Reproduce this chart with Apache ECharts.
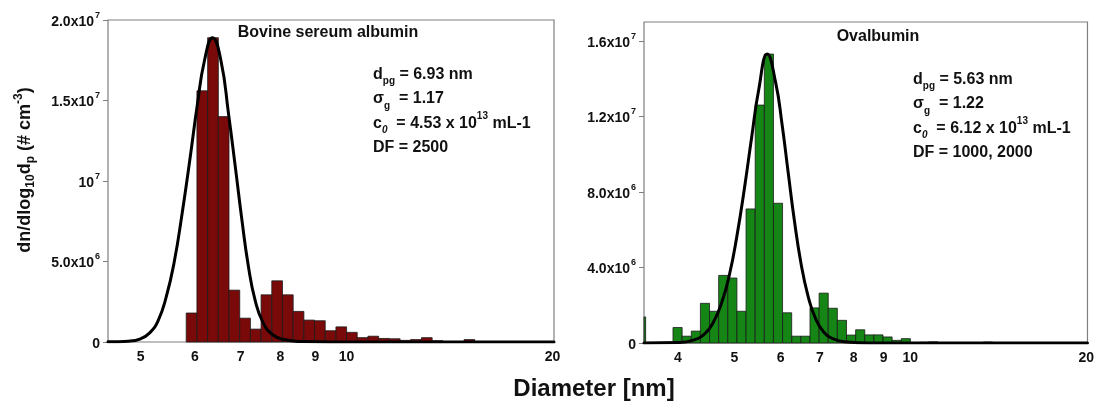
<!DOCTYPE html>
<html><head><meta charset="utf-8">
<script src="https://cdn.jsdelivr.net/npm/echarts@6/dist/echarts.min.js"></script>
<style>html,body{margin:0;padding:0;background:#fff}#c{width:1097px;height:402px}</style>
</head><body><div id="c"></div>
<script>
// ---- data (diameters in nm, concentrations in # cm^-3) ----
const BINS_PER_DECADE = 64;

const bsaDiameters = [5.935, 6.153, 6.379, 6.612, 6.855, 7.106, 7.366, 7.636, 7.916, 8.206, 8.507, 8.818, 9.141, 9.476, 9.823, 10.18, 10.55, 10.94, 11.34, 11.76, 12.19, 12.63, 13.10, 13.58, 14.07, 14.59, 15.12];
const bsaValues = [1.8e6, 15.6e6, 18.9e6, 14.0e6, 3.22e6, 1.48e6, 0.8e6, 2.93e6, 3.8e6, 2.93e6, 1.9e6, 1.36e6, 1.32e6, 0.7e6, 0.94e6, 0.6e6, 0.27e6, 0.36e6, 0.22e6, 0.2e6, 0.1e6, 0.15e6, 0.27e6, 0.08e6, 0.03e6, 0.03e6, 0.15e6];

const ovaDiameters = [3.460, 3.995, 4.142, 4.294, 4.451, 4.614, 4.783, 4.958, 5.140, 5.328, 5.524, 5.726, 5.935, 6.153, 6.379, 6.612, 6.855, 7.106, 7.366, 7.636, 7.916, 8.206, 8.507, 8.818, 9.141, 9.476, 9.823, 10.55, 10.94, 13.58, 14.07];
const ovaValues = [1.38e6, 0.82e6, 0.36e6, 0.63e6, 2.1e6, 1.68e6, 3.58e6, 3.44e6, 1.68e6, 7.1e6, 12.6e6, 15.3e6, 7.4e6, 1.6e6, 0.36e6, 0.36e6, 1.86e6, 2.64e6, 1.84e6, 1.2e6, 0.42e6, 0.7e6, 0.43e6, 0.43e6, 0.32e6, 0.14e6, 0.23e6, 0.04e6, 0.06e6, 0.05e6, 0.02e6];

const bsaFitDiameters = [4.48, 4.8, 5.0, 5.15, 5.3, 5.45, 5.6, 5.75, 5.9, 6.05, 6.2, 6.37, 6.55, 6.72, 6.88, 7.03, 7.18, 7.35, 7.55, 7.8, 8.1, 8.6, 9.5, 20.1];
const bsaFitValues = [0.01e6, 0.05e6, 0.2e6, 0.55e6, 1.3e6, 2.8e6, 5e6, 8e6, 11.3e6, 14.7e6, 17.5e6, 18.9e6, 17.5e6, 14.2e6, 10.8e6, 7.6e6, 4.8e6, 2.6e6, 1.2e6, 0.45e6, 0.15e6, 0.03e6, 0, 0];

const ovaFitDiameters = [3.5, 4.0, 4.25, 4.45, 4.6, 4.75, 4.9, 5.05, 5.2, 5.35, 5.5, 5.69, 5.88, 6.03, 6.18, 6.33, 6.5, 6.68, 6.88, 7.1, 7.4, 7.8, 8.5, 20.1];
const ovaFitValues = [0, 0.02e6, 0.15e6, 0.5e6, 1.1e6, 2.1e6, 3.6e6, 5.7e6, 8.2e6, 10.9e6, 13.4e6, 15.3e6, 13.8e6, 11.6e6, 9e6, 6.5e6, 4.2e6, 2.5e6, 1.3e6, 0.6e6, 0.2e6, 0.05e6, 0, 0];

const bsaXTicks = [5, 6, 7, 8, 9, 10, 20];
const ovaXTicks = [4, 5, 6, 7, 8, 9, 10, 20];
const bsaYTicks = [0, 5e6, 1e7, 1.5e7, 2e7];
const ovaYTicks = [0, 4e6, 8e6, 1.2e7, 1.6e7];
const bsaXRange = [4.48, 20.1];
const ovaXRange = [3.5, 20.1];
const bsaYMax = 2e7;
const ovaYMax = 1.7e7;

const bsaTitle = 'Bovine sereum albumin';
const ovaTitle = 'Ovalbumin';
const bsaStats = ['6.93', '1.17', '4.53', '13', '2500'];
const ovaStats = ['5.63', '1.22', '6.12', '13', '1000, 2000'];
const xTitle = 'Diameter [nm]';

// ---- helpers ----
const FONT = '"Liberation Sans", Arial, sans-serif';
const lg = Math.log10;

function yLabel(v) {
  if (v === 0) return '{b|0}';
  const e = Math.floor(lg(v) + 1e-9);
  const m = v / Math.pow(10, e);
  if (Math.abs(m - 1) < 1e-9) return '{b|10}{s|' + e + '}';
  return '{b|' + m.toFixed(1) + 'x10}{s|' + e + '}';
}
const yRich = {
  b: {fontFamily: FONT, fontWeight: 'bold', fontSize: 14, color: '#111', lineHeight: 18, verticalAlign: 'bottom'},
  s: {fontFamily: FONT, fontWeight: 'bold', fontSize: 9, color: '#111', lineHeight: 18, verticalAlign: 'top', padding: [0, 0, 0, 1]}
};

function barSeries(diams, vals, color, idx) {
  return {
    type: 'custom', xAxisIndex: idx, yAxisIndex: idx, z: 2,
    data: diams.map((d, i) => [lg(d), vals[i]]),
    encode: {x: 0, y: 1},
    renderItem: function (params, api) {
      const c = api.value(0), v = api.value(1);
      const h = 0.5 / BINS_PER_DECADE;
      const p0 = api.coord([c - h, 0]);
      const p1 = api.coord([c + h, v]);
      const rect = {x: p0[0], y: p1[1], width: p1[0] - p0[0], height: p0[1] - p1[1]};
      const cs = params.coordSys;
      const cl = echarts.graphic.clipRectByRect(rect, {x: cs.x, y: cs.y, width: cs.width, height: cs.height});
      if (!cl) return null;
      return {type: 'rect', shape: cl, style: {fill: color, stroke: '#1a1a1a', lineWidth: 0.8}};
    }
  };
}
function fitSeries(diams, vals, idx) {
  return {
    type: 'line', xAxisIndex: idx, yAxisIndex: idx, z: 5,
    data: diams.map((d, i) => [lg(d), vals[i]]),
    smooth: 0.5, showSymbol: false, symbol: 'none',
    lineStyle: {color: '#000', width: 3, join: 'round', cap: 'round'}, silent: true
  };
}
function xAxis(range, ticks, idx) {
  return {
    type: 'value', gridIndex: idx, min: lg(range[0]), max: lg(range[1]),
    axisLine: {show: false}, axisTick: {show: false}, splitLine: {show: false},
    axisLabel: {
      customValues: ticks.map(lg), margin: 8,
      formatter: v => String(Math.round(Math.pow(10, v))),
      fontFamily: FONT, fontWeight: 'bold', fontSize: 14, color: '#111'
    }
  };
}
function yAxis(max, ticks, idx) {
  return {
    type: 'value', gridIndex: idx, min: 0, max: max,
    axisLine: {show: false}, splitLine: {show: false},
    axisTick: {show: true, customValues: ticks, length: 5, lineStyle: {color: '#7f7f7f', width: 1}},
    axisLabel: {customValues: ticks, margin: 8, formatter: yLabel, rich: yRich}
  };
}
function statsText(s) {
  return '{t|d}{sub|pg}{t| = ' + s[0] + ' nm}\n' +
         '{t|σ}{sub|g}{t|  = ' + s[1] + '}\n' +
         '{t|c}{subi|0}{t|  = ' + s[2] + ' x 10}{sup|' + s[3] + '}{t| mL-1}\n' +
         '{t|DF = ' + s[4] + '}';
}
const statRich = {
  t: {fontFamily: FONT, fontWeight: 'bold', fontSize: 16, fill: '#111', lineHeight: 24.5, verticalAlign: 'middle'},
  sub: {fontFamily: FONT, fontWeight: 'bold', fontSize: 10, fill: '#111', lineHeight: 24.5, verticalAlign: 'bottom'},
  subi: {fontFamily: FONT, fontWeight: 'bold', fontStyle: 'italic', fontSize: 10, fill: '#111', lineHeight: 24.5, verticalAlign: 'bottom'},
  sup: {fontFamily: FONT, fontWeight: 'bold', fontSize: 10, fill: '#111', lineHeight: 24.5, verticalAlign: 'top'}
};

const chart = echarts.init(document.getElementById('c'), null, {renderer: 'canvas'});
chart.setOption({
  animation: false,
  backgroundColor: '#fff',
  grid: [
    {left: 108, right: 543, top: 20, bottom: 60, show: true, borderColor: '#7f7f7f', borderWidth: 1.2, containLabel: false},
    {left: 644, right: 7, top: 22, bottom: 59, show: true, borderColor: '#7f7f7f', borderWidth: 1.2, containLabel: false}
  ],
  xAxis: [xAxis(bsaXRange, bsaXTicks, 0), xAxis(ovaXRange, ovaXTicks, 1)],
  yAxis: [yAxis(bsaYMax, bsaYTicks, 0), yAxis(ovaYMax, ovaYTicks, 1)],
  series: [
    barSeries(bsaDiameters, bsaValues, '#7a0a0a', 0),
    fitSeries(bsaFitDiameters, bsaFitValues, 0),
    barSeries(ovaDiameters, ovaValues, '#158515', 1),
    fitSeries(ovaFitDiameters, ovaFitValues, 1)
  ],
  graphic: [
    {type: 'text', x: 328, y: 33, z: 10, style: {text: bsaTitle, font: 'bold 16px ' + FONT, fill: '#111', align: 'center', verticalAlign: 'middle'}},
    {type: 'text', x: 878, y: 37, z: 10, style: {text: ovaTitle, font: 'bold 16px ' + FONT, fill: '#111', align: 'center', verticalAlign: 'middle'}},
    {type: 'text', x: 373, y: 62, z: 10, style: {text: statsText(bsaStats), rich: statRich, align: 'left', verticalAlign: 'top'}},
    {type: 'text', x: 913, y: 67, z: 10, style: {text: statsText(ovaStats), rich: statRich, align: 'left', verticalAlign: 'top'}},
    {type: 'text', x: 594, y: 389, z: 10, style: {text: xTitle, font: 'bold 24px ' + FONT, fill: '#111', align: 'center', verticalAlign: 'middle'}},
    {type: 'text', x: 25, y: 170, rotation: Math.PI / 2, z: 10, style: {
      text: '{a|dn/dlog}{sub|10}{a|d}{sub|p}{a| (# cm}{sup|-3}{a|)}', align: 'center', verticalAlign: 'middle',
      rich: {
        a: {fontFamily: FONT, fontWeight: 'bold', fontSize: 18, fill: '#111', lineHeight: 24, verticalAlign: 'middle'},
        sub: {fontFamily: FONT, fontWeight: 'bold', fontSize: 12, fill: '#111', lineHeight: 24, verticalAlign: 'bottom'},
        sup: {fontFamily: FONT, fontWeight: 'bold', fontSize: 12, fill: '#111', lineHeight: 24, verticalAlign: 'top'}
      }}}
  ]
});
</script>
</body></html>
